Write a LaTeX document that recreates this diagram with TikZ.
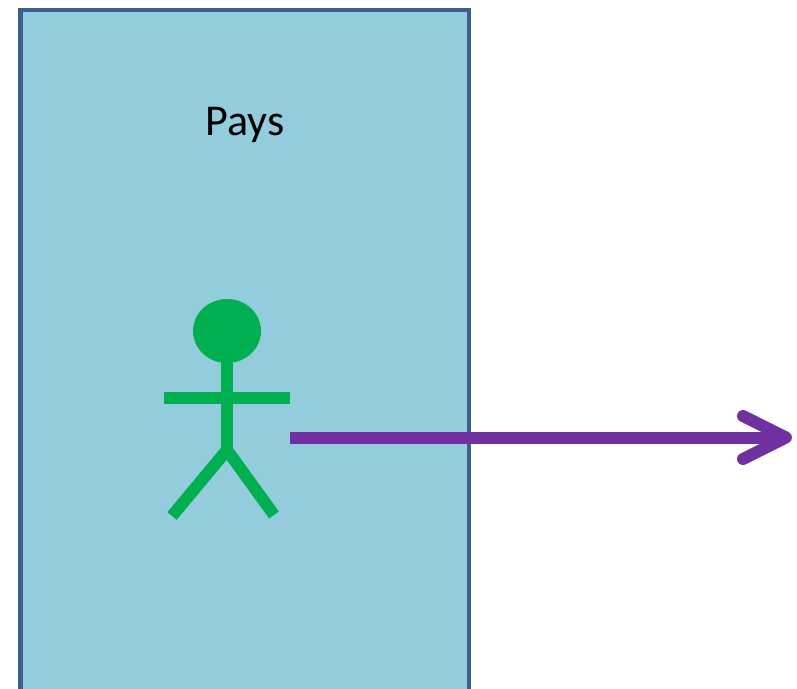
\documentclass[tikz,border=0pt]{standalone}
\usepackage{fontspec}
\setmainfont{Carlito}
\usetikzlibrary{shapes.geometric}
\definecolor{paysfill}{HTML}{93CDDD}
\definecolor{paysborder}{HTML}{3B5F8C}
\definecolor{mangreen}{HTML}{00B050}
\definecolor{arrowpurple}{HTML}{7030A0}
\tikzset{
  country/.style={draw=paysborder, fill=paysfill, line width=4.5pt},
  limb/.style={draw=mangreen, line width=12pt, line cap=butt},
  flow/.style={draw=arrowpurple, line width=12pt},
}
\begin{document}
\begin{tikzpicture}[x=1pt,y=-1pt]
\useasboundingbox (0,0) rectangle (797,688);
\clip (0,0) rectangle (797,688);
\fill[white] (0,0) rectangle (797,688);
\path[country] (20.5,10) rectangle (469,720);
\node[font=\fontsize{44}{50}\selectfont, inner sep=0pt, anchor=base] (pays) at (245,135) {Pays};
% stick figure
\node[ellipse, fill=mangreen, minimum width=68pt, minimum height=64pt, inner sep=0pt] (head) at (227,331) {};
\coordinate (neck) at (227,355);
\coordinate (hip) at (227,450);
\coordinate (lhand) at (164,397.5);
\coordinate (rhand) at (289.5,397.5);
\coordinate (lfoot) at (172,516);
\coordinate (rfoot) at (274,515);
\draw[limb] (neck) -- (hip);
\draw[limb] (lhand) -- (rhand);
\draw[limb] (lfoot) -- (hip) -- (rfoot);
% arrow
\coordinate (astart) at (290,437.5);
\coordinate (atip) at (786,437.5);
\coordinate (abarbup) at (743,416);
\coordinate (abarbdn) at (743,459);
\draw[flow, line cap=butt] (astart) -- (atip);
\draw[flow, line cap=round, line join=round] (abarbup) -- (atip) -- (abarbdn);
\end{tikzpicture}
\end{document}
